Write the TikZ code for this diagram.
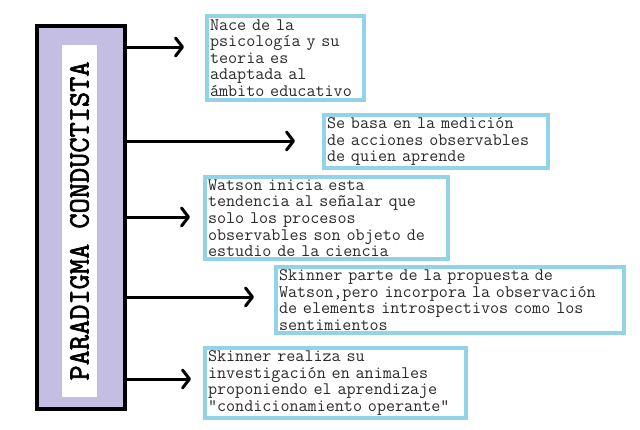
\documentclass[tikz,border=0pt]{standalone}
\usepackage{fontspec}
\newfontfamily\titlefont[FakeBold=2.2]{Latin Modern Mono}
\usepackage{tikz}
\usetikzlibrary{arrows.meta, positioning}
\definecolor{lavanda}{HTML}{C5BEE3}
\definecolor{celeste}{HTML}{93D3E7}
\definecolor{tinta}{HTML}{2A2A2A}
\newcommand{\notefont}{\ttfamily\fontsize{17.6}{16.6}\selectfont}

\begin{document}
\begin{tikzpicture}[x=1pt, y=-1pt,
    mainbox/.style={draw=black, line width=4pt, fill=lavanda, minimum width=88pt, minimum height=383pt, inner sep=0pt},
    strip/.style={fill=white, rotate=90, minimum width=352pt, minimum height=35pt, inner sep=0pt,
      font=\titlefont\fontsize{29.5}{29.5}\selectfont, text=black},
    note/.style={draw=celeste, line width=4pt, fill=white, anchor=north west, inner xsep=3pt, inner ysep=2.5pt,
      align=left, font=\notefont, text=tinta},
    link/.style={line width=3pt, -{Straight Barb[length=7pt, width=18pt, line cap=round, line join=round]}}]
  \useasboundingbox[fill=white] (0,0) rectangle (640,429);
  % paradigma
  \node[mainbox] (para) at (81,217.5) {};
  \node[strip] (titulo) at (79.5,221) {PARADIGMA CONDUCTISTA};
  % notas
  \node[note, text width=151pt, minimum height=84pt] (n1) at (205,14)
    {Nace de la\\psicología y su\\teoria es\\adaptada al\\ámbito educativo};
  \node[note, text width=218pt, minimum height=51pt] (n2) at (322,113)
    {Se basa en la medición\\de acciones observables\\de quien aprende};
  \node[note, text width=237pt, minimum height=80pt] (n3) at (203,175)
    {Watson inicia esta\\tendencia al señalar que\\solo los procesos\\observables son objeto de\\estudio de la ciencia};
  \node[note, text width=342pt, minimum height=65pt] (n4) at (274,265)
    {Skinner parte de la propuesta de\\Watson,pero incorpora la observación\\de elements introspectivos como los\\sentimientos};
  \node[note, text width=255pt, minimum height=68pt] (n5) at (203,346)
    {Skinner realiza su\\investigación en animales\\proponiendo el aprendizaje\\"condicionamiento operante"};
  % flechas
  \coordinate (t1) at (184,47);
  \coordinate (t2) at (295,141);
  \coordinate (t3) at (190,217);
  \coordinate (t4) at (254,297);
  \coordinate (t5) at (191,379);
  \foreach \t in {t1,t2,t3,t4,t5}
    \draw[link] (\t -| para.east) -- (\t);
\end{tikzpicture}
\end{document}
